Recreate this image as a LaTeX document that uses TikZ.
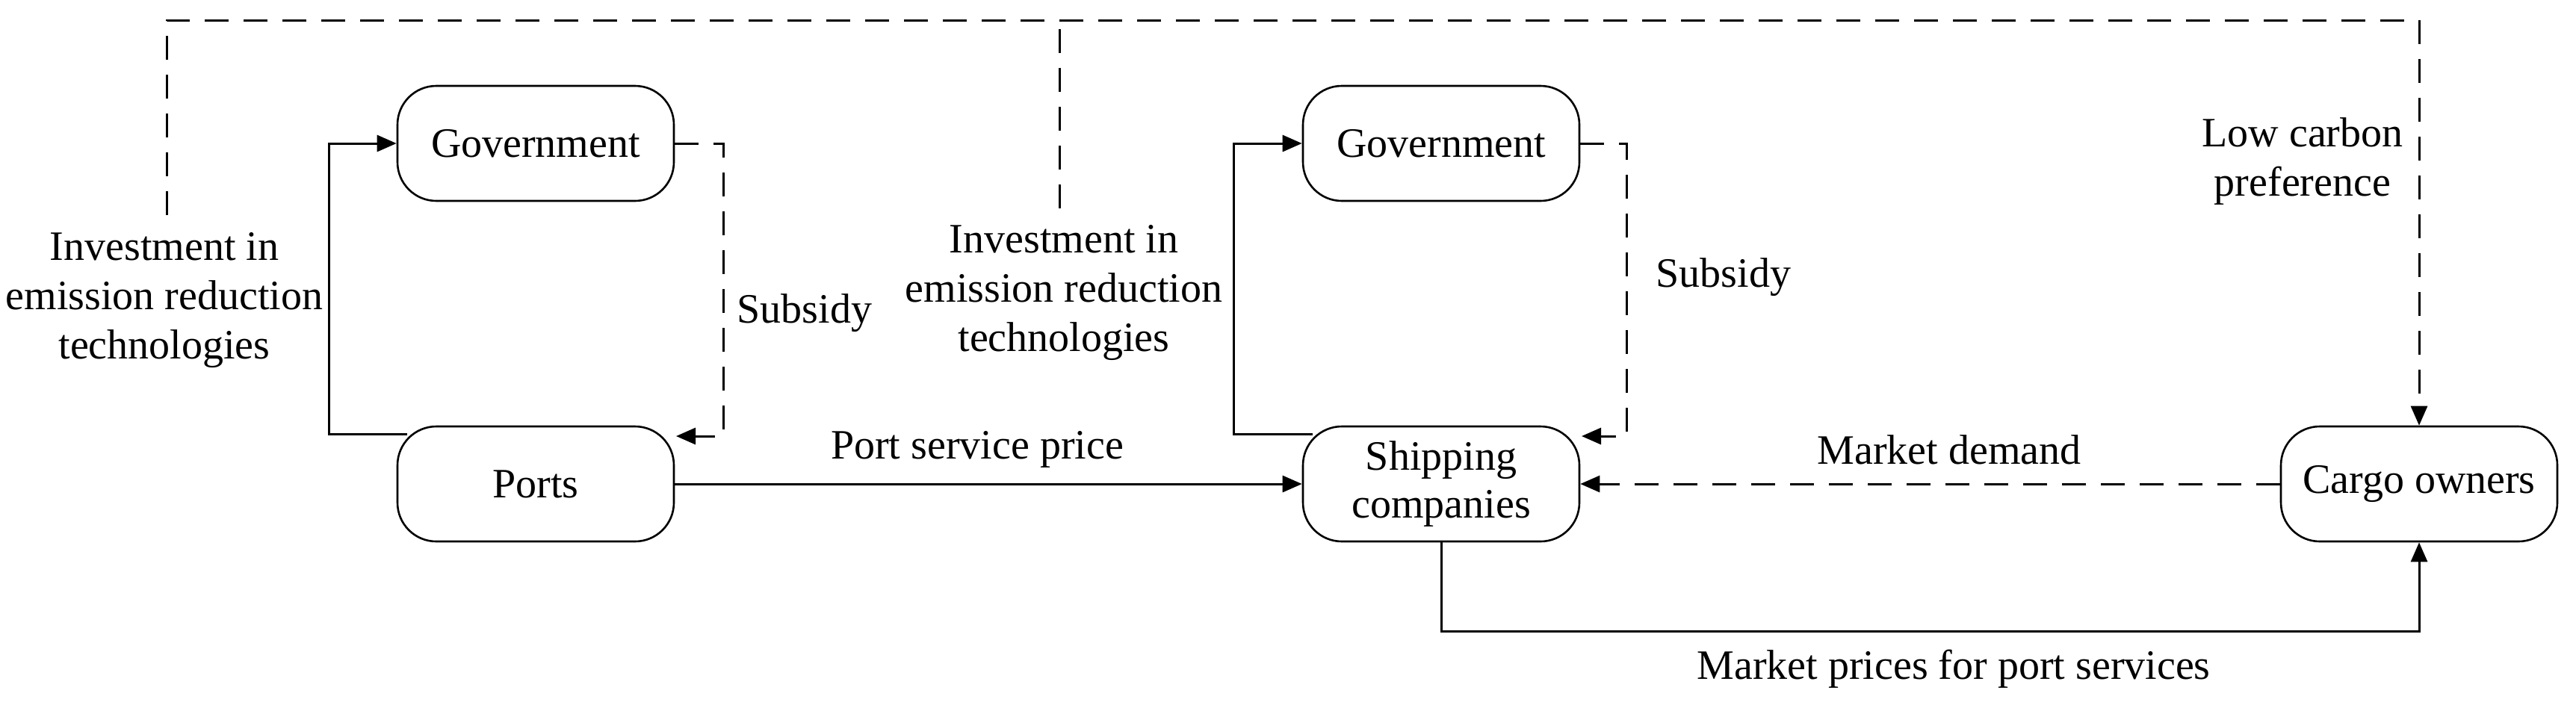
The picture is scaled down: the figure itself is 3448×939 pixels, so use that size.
\documentclass[tikz,border=0pt]{standalone}
\usepackage{fontspec}
\setmainfont{Liberation Serif}
\usetikzlibrary{arrows.meta}
\begin{document}
\begin{tikzpicture}[x=0.5pt,y=-0.5pt,
  box/.style={draw,line width=1.3pt,rounded corners=26pt,minimum width=185pt,minimum height=77pt,inner sep=0pt,align=center,font=\fontsize{28}{32}\selectfont},
  lbl/.style={align=center,font=\fontsize{28}{33}\selectfont,inner sep=0pt},
  ln/.style={line width=1.5pt},
  dsh/.style={line width=1.5pt,dash pattern=on 16pt off 10pt},
  arr/.style={-{Triangle[length=13pt,width=11pt]}}]
\useasboundingbox (0,0) rectangle (3448,939);
\node[box] (gov1) at (717,192) {Government};
\node[box] (ports) at (717,648) {Ports};
\node[box] (gov2) at (1929,192) {Government};
\node[box] (ship) at (1929,648) {Shipping\\companies};
\node[box] (cargo) at (3238,648) {Cargo owners};
% left loop
\coordinate (p1) at (545,581);
\coordinate (p1x) at (440,581);
\draw[ln,arr] (p1) -- (p1x) |- (gov1.west);
\coordinate (s1x) at (968,192);
\coordinate (t1) at (905,584);
\draw[dsh,arr] (gov1.east) -- (s1x) -- (s1x |- t1) -- (t1);
% middle loop
\coordinate (p2) at (1757,581);
\coordinate (p2x) at (1651,581);
\draw[ln,arr] (p2) -- (p2x) |- (gov2.west);
\coordinate (s2x) at (2177,192);
\coordinate (t2) at (2117,584);
\draw[dsh,arr] (gov2.east) -- (s2x) -- (s2x |- t2) -- (t2);
% port price
\draw[ln,arr] (ports.east) -- (ship.west);
\draw[dsh,arr] (cargo.west) -- (ship.east);
% top dashed
\coordinate (tl) at (223,288);
\coordinate (tm) at (1418,279);
\coordinate (tp) at (3238,27);
\draw[dsh,arr] (tl) |- (tp) -- (cargo.north);
\draw[dsh] (tm) -- (tm |- tp);
% bottom
\coordinate (bt) at (1929,845);
\draw[ln,arr] (ship.south) -- (bt) -| (cargo.south);
% labels
\node[lbl] (l1) at (220,402) {Investment in\\emission reduction\\technologies};
\node[lbl] (l2) at (1424,392) {Investment in\\emission reduction\\technologies};
\node[lbl] (l3) at (1077,419) {Subsidy};
\node[lbl] (l4) at (2307,371) {Subsidy};
\node[lbl] (l5) at (1308,602) {Port service price};
\node[lbl] (l6) at (2609,602) {Market demand};
\node[lbl] (l7) at (3082,216) {Low carbon\\preference};
\node[lbl] (l8) at (2615,896) {Market prices for port services};
\end{tikzpicture}
\end{document}
